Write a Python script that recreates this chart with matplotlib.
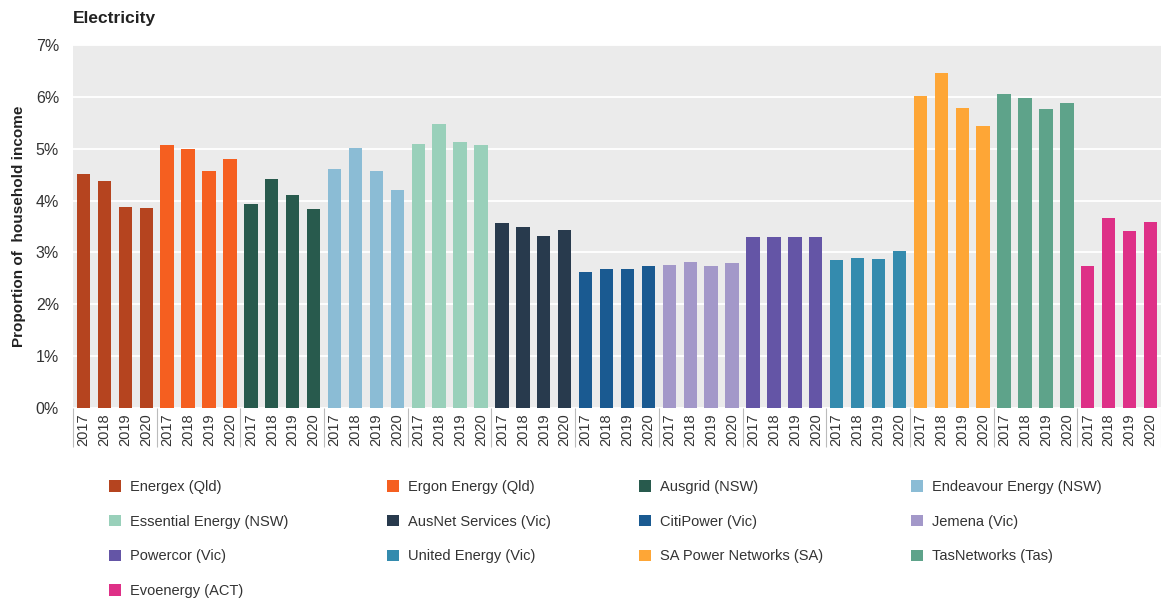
import numpy as np
import matplotlib
matplotlib.use('Agg')
import matplotlib.pyplot as plt
from matplotlib.patches import Patch

# --- Data ---
years = ['2017', '2018', '2019', '2020']
networks = ['Energex (Qld)', 'Ergon Energy (Qld)', 'Ausgrid (NSW)', 'Endeavour Energy (NSW)',
            'Essential Energy (NSW)', 'AusNet Services (Vic)', 'CitiPower (Vic)', 'Jemena (Vic)',
            'Powercor (Vic)', 'United Energy (Vic)', 'SA Power Networks (SA)', 'TasNetworks (Tas)',
            'Evoenergy (ACT)']
energex = [4.51, 4.37, 3.88, 3.85]
ergon = [5.08, 4.99, 4.57, 4.81]
ausgrid = [3.94, 4.42, 4.10, 3.83]
endeavour = [4.60, 5.02, 4.57, 4.21]
essential = [5.10, 5.48, 5.13, 5.08]
ausnet = [3.56, 3.50, 3.31, 3.44]
citipower = [2.63, 2.69, 2.69, 2.73]
jemena = [2.75, 2.81, 2.73, 2.79]
powercor = [3.29, 3.29, 3.29, 3.29]
united = [2.85, 2.90, 2.87, 3.02]
sapn = [6.01, 6.46, 5.79, 5.44]
tasnet = [6.06, 5.97, 5.76, 5.89]
evoenergy = [2.74, 3.67, 3.41, 3.58]

colors = ['#B5441F', '#F55F20', '#285A4D', '#8BBCD5', '#99D0BA', '#283A4D', '#1A5A91',
          '#A398C9', '#6455A6', '#348BAE', '#FEA636', '#5EA38A', '#DE3087']

values = [energex, ergon, ausgrid, endeavour, essential, ausnet, citipower, jemena,
          powercor, united, sapn, tasnet, evoenergy]

# --- Plot ---
plt.rcParams['font.family'] = ['Liberation Sans', 'DejaVu Sans']
fig = plt.figure(figsize=(11.61, 5.99), dpi=100)
ax = fig.add_axes([73 / 1161, 1 - 408 / 599, 1 - 73 / 1161, (408 - 45) / 599])
ax.set_facecolor('#EBEBEB')

n_years = len(years)
for g, (vals, col) in enumerate(zip(values, colors)):
    x = np.arange(n_years) + g * n_years
    ax.bar(x, vals, width=0.64, color=col, zorder=3)

ax.set_xlim(-0.5, len(networks) * n_years - 0.5)
ax.set_ylim(0, 7)
ax.set_yticks(range(8))
ax.set_yticklabels([f'{i}%' for i in range(8)], fontsize=11.5, color='#333333')
ax.yaxis.grid(True, color='white', linewidth=1.3, zorder=0)
ax.tick_params(axis='y', length=0, pad=10)

ax.set_xticks(np.arange(len(networks) * n_years))
ax.set_xticklabels(years * len(networks), rotation=90, fontsize=10.5, color='#333333')
ax.tick_params(axis='x', which='major', length=0, pad=4)
ax.set_xticks(np.arange(len(networks) + 1) * n_years - 0.5, minor=True)
ax.tick_params(axis='x', which='minor', length=28, width=0.8, color='#BBBBBB')

for s in ax.spines.values():
    s.set_visible(False)

ax.set_ylabel('Proportion of  household income', fontsize=11, fontweight='bold',
              color='#222222', labelpad=7)
fig.text(73 / 1161, 1 - 18 / 599, 'Electricity', fontsize=12.5, fontweight='bold',
         color='#222222', va='center', ha='left')

# legend: four columns, filled row by row
col_x = [109, 387, 639, 911]
for c in range(4):
    idx = list(range(c, len(networks), 4))
    handles = [Patch(facecolor=colors[i], edgecolor='none') for i in idx]
    labels = [networks[i] for i in idx]
    fig.legend(handles, labels, loc='upper left',
               bbox_to_anchor=(col_x[c] / 1161, 1 - 480 / 599), frameon=False,
               fontsize=10.5, handlelength=0.85, handleheight=0.85, handletextpad=0.6,
               labelspacing=1.42, labelcolor='#333333', borderpad=0, borderaxespad=0)

fig.savefig('out.png', dpi=100)
